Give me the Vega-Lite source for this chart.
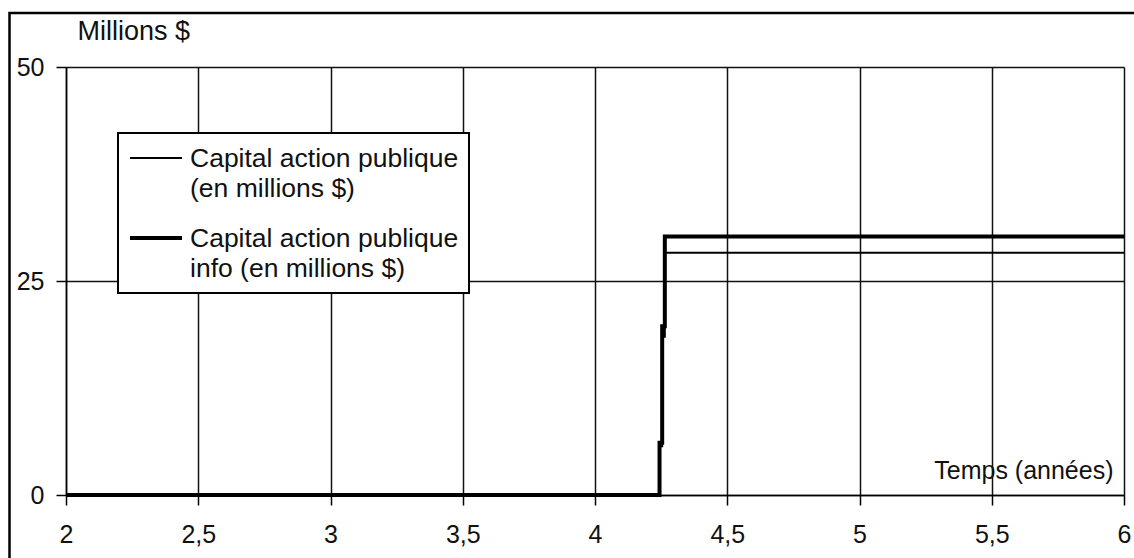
{
  "$schema": "https://vega.github.io/schema/vega-lite/v6.json",
  "width": 1058,
  "height": 428,
  "autosize": {"type": "none"},
  "padding": {"left": 66, "top": 67, "right": 10, "bottom": 63},
  "background": "white",
  "config": {
    "view": {"stroke": null},
    "font": "Liberation Sans",
    "axis": {
      "grid": true,
      "domainColor": "black",
      "domainWidth": 1.5,
      "tickColor": "black",
      "tickWidth": 1.5,
      "tickSize": 10,
      "gridColor": "#111111",
      "gridWidth": 1.5,
      "gridOpacity": 1,
      "labelFont": "Liberation Sans",
      "labelFontSize": 25,
      "labelColor": "#111111",
      "labelFlush": false,
      "labelOverlap": false,
      "titleFont": "Liberation Sans",
      "titleFontSize": 25,
      "titleFontWeight": "normal",
      "titleColor": "#111111"
    }
  },
  "datasets": {
    "capital": [
      {"serie": "Capital action publique (en millions $)", "t": 2, "v": 0},
      {"serie": "Capital action publique (en millions $)", "t": 4.244, "v": 5.7},
      {"serie": "Capital action publique (en millions $)", "t": 4.254, "v": 18.5},
      {"serie": "Capital action publique (en millions $)", "t": 4.264, "v": 28.3},
      {"serie": "Capital action publique (en millions $)", "t": 6, "v": 28.3},
      {"serie": "Capital action publique info (en millions $)", "t": 2, "v": 0},
      {"serie": "Capital action publique info (en millions $)", "t": 4.244, "v": 6.1},
      {"serie": "Capital action publique info (en millions $)", "t": 4.254, "v": 19.7},
      {"serie": "Capital action publique info (en millions $)", "t": 4.264, "v": 30.2},
      {"serie": "Capital action publique info (en millions $)", "t": 6, "v": 30.2}
    ]
  },
  "layer": [
    {
      "data": {"values": [{}]},
      "mark": {"type": "rect", "filled": false, "stroke": "black", "strokeWidth": 2.5, "clip": false},
      "encoding": {
        "x": {"datum": 1.7864, "type": "quantitative", "scale": {"domain": [2, 6], "nice": false, "zero": false}},
        "x2": {"datum": 6.1},
        "y": {"datum": 56.3, "type": "quantitative", "scale": {"domain": [0, 50], "nice": false, "zero": false}},
        "y2": {"datum": -10}
      }
    },
    {
      "data": {"name": "capital"},
      "mark": {"type": "line", "interpolate": "step-after", "color": "black", "clip": false},
      "encoding": {
        "x": {
          "field": "t",
          "type": "quantitative",
          "scale": {"domain": [2, 6], "nice": false, "zero": false},
          "axis": {
            "values": [2, 2.5, 3, 3.5, 4, 4.5, 5, 5.5, 6],
            "labelExpr": "replace(toString(datum.value), '.', ',')",
            "labelPadding": 17,
            "title": "Temps (années)",
            "titleAnchor": null,
            "titleAlign": "right",
            "titleBaseline": "alphabetic",
            "titleX": 1047,
            "titleY": -17
          }
        },
        "y": {
          "field": "v",
          "type": "quantitative",
          "scale": {"domain": [0, 50], "nice": false, "zero": false},
          "axis": {
            "values": [0, 25, 50],
            "labelPadding": 12,
            "title": "Millions $",
            "titleFontSize": 27,
            "titleAngle": 0,
            "titleAlign": "left",
            "titleBaseline": "alphabetic",
            "titleX": 11,
            "titleY": -28
          }
        },
        "strokeWidth": {
          "field": "serie",
          "type": "ordinal",
          "sort": ["Capital action publique (en millions $)", "Capital action publique info (en millions $)"],
          "scale": {"range": [2, 4]},
          "legend": {
            "title": null,
            "orient": "none",
            "legendX": 52,
            "legendY": 66,
            "padding": 10,
            "fillColor": "white",
            "strokeColor": "black",
            "symbolType": "stroke",
            "symbolSize": 2704,
            "symbolStrokeColor": "black",
            "labelFont": "Liberation Sans",
            "labelFontSize": 26.5,
            "labelColor": "#111111",
            "labelLimit": 0,
            "labelOffset": 6,
            "labelBaseline": "alphabetic",
            "rowPadding": 20,
            "labelExpr": "indexof(datum.label, 'info') >= 0 ? ['Capital action publique', 'info (en millions $)'] : ['Capital action publique', '(en millions $)']",
            "encode": {
              "legend": {"update": {"strokeWidth": {"value": 2}}},
              "symbols": {"update": {"y": {"value": 15}}},
              "labels": {"update": {"y": {"value": 24}, "lineHeight": {"value": 30}}}
            }
          }
        }
      }
    }
  ]
}
